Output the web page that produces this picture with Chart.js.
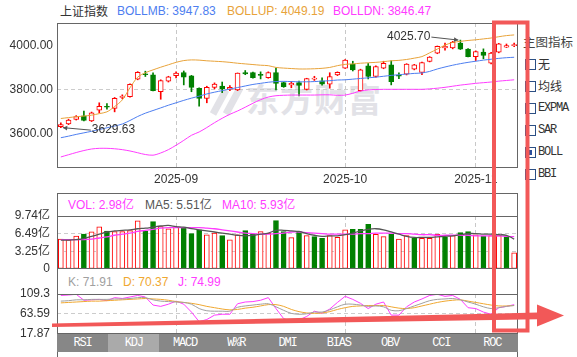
<!DOCTYPE html>
<html>
<head>
<meta charset="utf-8">
<script src="https://cdn.jsdelivr.net/npm/chart.js@4"></script>
<style>
  body { margin: 0; width: 577px; height: 357px; overflow: hidden; background: #fff; position: relative;
         font-family: "Liberation Sans", Arial, "Noto Sans CJK SC", sans-serif; }
  .t { position: absolute; font-size: 12px; line-height: 14px; white-space: nowrap; }
  canvas { position: absolute; left: 0; }
  .box { position: absolute; left: 525px; width: 9px; height: 9px; border: 1px solid #2b4f84; }
  .lbl { position: absolute; left: 538px; font-size: 12px; line-height: 14px; color: #333; }
  .mono { font-family: "Liberation Mono", monospace; font-size: 12px; letter-spacing: -1.2px; }
  #tabs { position: absolute; left: 57px; top: 334px; width: 461px; height: 18px; display: flex; background: #878787; }
  #tabs div { flex: 1; text-align: center; line-height: 18px; color: #fff; }
  #tabs div.on { background: #aaaaaa; }
</style>
</head>
<body>

<!-- watermark -->
<div class="t" style="left:246px;top:78px;font-size:33px;line-height:40px;font-weight:bold;color:#e2e2e7;font-family:'Noto Sans CJK SC';letter-spacing:1px;">东方财富</div>
<svg width="577" height="357" style="position:absolute;left:0;top:0">
  <path d="M213,114 L226,90 M226,114 L240,88" stroke="#e2e2e7" stroke-width="7" fill="none"/>
</svg>

<div class="t" style="left:60px;top:4px;color:#333;font-family:'Noto Sans CJK SC';">上证指数</div>
<div class="t" style="left:117px;top:4px;color:#4d7ef0;">BOLLMB: 3947.83</div>
<div class="t" style="left:227px;top:4px;color:#e8a33a;">BOLLUP: 4049.19</div>
<div class="t" style="left:333px;top:4px;color:#ff3cff;">BOLLDN: 3846.47</div>

<div style="position:absolute;left:57px;top:193px;width:461px;height:164px;box-sizing:border-box;border:1px solid #666;border-bottom:none;"></div>

<div class="t" style="left:68px;top:198px;color:#ff3cff;">VOL: 2.98亿</div>
<div class="t" style="left:145px;top:198px;color:#555;">MA5: 5.51亿</div>
<div class="t" style="left:222px;top:198px;color:#ff3cff;">MA10: 5.93亿</div>

<div class="t" style="left:68px;top:275px;color:#a0a0a0;">K: 71.91</div>
<div class="t" style="left:123px;top:275px;color:#f0a830;">D: 70.37</div>
<div class="t" style="left:178px;top:275px;color:#ff3cff;">J: 74.99</div>

<canvas id="mainChart" width="518" height="175" style="top:18px"></canvas>
<canvas id="volChart" width="518" height="67" style="top:209px"></canvas>
<canvas id="kdjChart" width="518" height="54" style="top:287px"></canvas>

<div class="t" style="left:523px;top:35px;color:#444;font-size:12.5px;font-family:'Noto Sans CJK SC';">主图指标</div>
<div class="box" style="top:59px"></div><div class="lbl" style="top:57px;font-family:'Noto Sans CJK SC'">无</div>
<div class="box" style="top:81px"></div><div class="lbl" style="top:79px;font-family:'Noto Sans CJK SC'">均线</div>
<div class="box" style="top:103px"></div><div class="lbl mono" style="top:101px">EXPMA</div>
<div class="box" style="top:125px"></div><div class="lbl mono" style="top:123px">SAR</div>
<div class="box" style="top:147px"><div style="position:absolute;left:2px;top:2px;width:4px;height:5px;background:#2b4f9c"></div></div><div class="lbl mono" style="top:145px">BOLL</div>
<div class="box" style="top:169px"></div><div class="lbl mono" style="top:167px">BBI</div>

<div id="tabs" class="mono">
  <div>RSI</div><div class="on">KDJ</div><div>MACD</div><div>W%R</div><div>DMI</div><div>BIAS</div><div>OBV</div><div>CCI</div><div>ROC</div>
</div>

<svg width="577" height="357" style="position:absolute;left:0;top:0">
  <rect x="494" y="22.5" width="33.5" height="308" fill="none" stroke="#f25858" stroke-width="4"/>
  <polygon points="52,323.6 538,312.6 538,319.2 52,327" fill="#f25858"/>
  <polygon points="537,304.5 564,315.5 537,326.5" fill="#f25858"/>
</svg>

<script>
// trading days, Aug 11 .. Nov 10 2025
const dates = [
  '2025-08-11','2025-08-12','2025-08-13','2025-08-14','2025-08-15',
  '2025-08-18','2025-08-19','2025-08-20','2025-08-21','2025-08-22',
  '2025-08-25','2025-08-26','2025-08-27','2025-08-28','2025-08-29',
  '2025-09-01','2025-09-02','2025-09-03','2025-09-04','2025-09-05',
  '2025-09-08','2025-09-09','2025-09-10','2025-09-11','2025-09-12',
  '2025-09-15','2025-09-16','2025-09-17','2025-09-18','2025-09-19',
  '2025-09-22','2025-09-23','2025-09-24','2025-09-25','2025-09-26',
  '2025-09-29','2025-09-30',
  '2025-10-09','2025-10-10',
  '2025-10-13','2025-10-14','2025-10-15','2025-10-16','2025-10-17',
  '2025-10-20','2025-10-21','2025-10-22','2025-10-23','2025-10-24',
  '2025-10-27','2025-10-28','2025-10-29','2025-10-30','2025-10-31',
  '2025-11-03','2025-11-04','2025-11-05','2025-11-06','2025-11-07',
  '2025-11-10'
];

const openP = [3634,3646,3667,3683,3660,3709,3726,3717,3766,3770,3849,3873,3868,3792,3840,3865,3879,3864,3808,3762,
  3812,3818,3803,3800,3879,3879,3871,3856,3879,3833,3823,3833,3803,3849,3841,3826,3868,3899,3917,3797,
  3909,3861,3899,3914,3866,3871,3894,3879,3929,3967,3990,3990,4012,3985,3951,3971,3921,3971,3994,4001];
const highP = [3651,3668,3684,3705,3700,3742,3738,3766,3778,3828,3883,3885,3878,3846,3862,3882,3886,3866,3810,3817,
  3832,3836,3820,3877,3888,3881,3882,3882,3899,3836,3838,3840,3853,3862,3855,3878,3882,3937,3930,3894,
  3920,3909,3930,3932,3878,3919,3916,3926,3951,3999,4012,4020,4025.70,3987,3977,3986,3970,4011,4008,4012];
const lowP = [3629.63,3643,3664,3660,3657,3697,3713,3701,3760,3768,3846,3861,3796,3758,3836,3855,3823,3792,3727,3742,
  3805,3788,3797,3797,3869,3853,3850,3853,3800,3812,3810,3773,3800,3843,3822,3808,3865,3897,3886,3795,
  3850,3858,3896,3823,3851,3868,3891,3869,3927,3964,3980,3986,3983,3949,3933,3941,3918,3968,3992,3996];
const closeP = [3644,3664,3680,3662,3697,3726,3722,3762,3772,3826,3880,3869,3797,3842,3859,3876,3858,3812,3762,3812,
  3827,3805,3812,3876,3873,3856,3866,3879,3830,3815,3830,3821,3851,3853,3826,3861,3880,3935,3891,3891,
  3861,3906,3920,3838,3863,3917,3914,3924,3949,3997,3997,4015,3985,3951,3974,3956,3967,4009,4001,4004];

const bollUP = [3671,3675,3679,3682,3686,3693,3701,3725,3755,3810,3858,3878,3891,3903,3914,3925,3933,3936,3935,3932,
  3930,3928,3925,3921,3918,3915,3912,3910,3902,3899,3897,3895,3895,3896,3898,3902,3910,3916,3918,3921,
  3923,3925,3928,3932,3934,3938,3944,3951,3968,3985,4003,4015,4020,4024,4027,4031,4035,4041,4046,4049];
const bollMB = [3584,3591,3599,3606,3613,3621,3629,3637,3646,3662,3680,3695,3707,3719,3731,3742,3753,3763,3772,3782,
  3790,3797,3804,3811,3818,3825,3830,3835,3838,3839,3838,3837,3837,3838,3840,3842,3845,3846,3849,3852,
  3855,3858,3862,3866,3869,3872,3875,3877,3884,3895,3904,3912,3919,3925,3930,3935,3939,3943,3946,3948];
const bollDN = [3497,3507,3517,3526,3533,3536,3536,3534,3530,3524,3516,3508,3505,3515,3530,3550,3572,3595,3610,3630,
  3652,3672,3690,3705,3722,3740,3756,3768,3774,3776,3777,3777,3777,3777,3778,3778,3776,3777,3785,3795,
  3800,3802,3803,3803,3803,3803,3803,3803,3805,3808,3812,3817,3822,3826,3830,3833,3836,3840,3843,3846];

// volume in 亿, up = red hollow
const volume = [5.52,5.34,6.07,6.44,6.81,7.73,6.99,6.86,6.86,7.05,8.83,6.99,8.70,7.78,7.36,7.73,7.60,6.50,7.18,6.26,
  6.62,6.13,5.34,6.26,7.05,6.37,6.86,6.55,8.89,6.86,5.76,6.86,6.13,5.94,5.64,6.13,5.82,7.18,7.29,7.29,
  8.21,6.37,5.94,6.37,5.52,6.13,5.64,5.64,5.64,6.37,5.82,6.13,6.68,6.86,6.26,6.07,6.13,6.13,5.94,2.98];
const volUp = [1,1,1,0,1,1,0,1,1,1,1,0,0,1,1,1,0,0,0,1,
  1,0,1,1,0,0,1,1,0,0,1,0,1,0,0,1,1,1,0,0,
  0,1,1,0,1,1,0,1,1,1,0,1,0,0,1,0,1,1,0,1];
const volMA5 = [5.3,5.3,5.4,5.6,6.0,6.4,6.8,7.0,7.1,7.2,7.4,7.5,7.7,7.9,8.0,7.8,7.7,7.4,7.2,7.0,
  6.8,6.6,6.4,6.2,6.1,6.2,6.4,6.6,7.1,7.1,7.0,6.9,6.5,6.2,6.0,6.1,6.1,6.3,6.6,7.0,
  7.3,7.4,7.2,6.8,6.4,6.0,5.8,5.8,5.8,5.9,6.0,6.1,6.3,6.5,6.5,6.4,6.4,6.3,6.2,5.5];
const volMA10 = [5.4,5.4,5.4,5.4,5.5,5.7,5.9,6.2,6.4,6.6,6.9,7.1,7.3,7.5,7.6,7.6,7.6,7.6,7.6,7.5,
  7.4,7.2,7.0,6.8,6.6,6.5,6.4,6.4,6.5,6.6,6.8,6.8,6.7,6.6,6.5,6.4,6.4,6.4,6.4,6.5,
  6.5,6.6,6.6,6.6,6.5,6.5,6.4,6.3,6.3,6.2,6.2,6.2,6.2,6.2,6.1,6.1,6.1,6.1,6.0,5.95];

const kLine = [93,94,96,96,97,97,97,98,98,99,101,101,96,93,92,91,90,86,76,71,
  70,70,70,79,82,84,86,87,80,72,65,63,64,68,68,73,80,86,86,84,
  81,82,80,72,71,76,82,88,94,97,98,99,96,91,86,80,76,78,81,83];
const dLine = [89,90,91,92,93,93,94,95,96,97,98,99,98,97,95,92,90,88,85,81,
  78,75,73,74,77,79,82,85,85,81,74,69,66,65,66,69,74,78,81,82,
  83,83,83,80,77,76,78,82,86,90,93,95,96,93,90,87,84,82,82,83];
const jLine = [106,107,108.6,95,96,97,94,101,99,102.5,106,102.5,84,81,86,93,86,68,46,51,
  61,63,63,87,91,92,95,101,76,53,47,50,58,70,65,75,90,104,97,88,
  76,86,91,61,61,80,91,98,106,108.6,104,106,97,78,76,68,63,78,81,85];

const priceTicks = [3600, 3800, 4000];
const volTicks = [0, 3.25, 6.49, 9.74];
const kdjTicks = [17.87, 63.59, 109.3];

const RED = '#ff0000', GREEN = '#008000';
const monthStart = dates.map((d, i) => i > 0 && d.slice(0, 7) !== dates[i - 1].slice(0, 7));
const candleUp = closeP.map((c, i) => c >= openP[i]);

Chart.defaults.font.family = '"Liberation Sans", Arial, "Noto Sans CJK SC", sans-serif';
Chart.defaults.font.size = 12;
Chart.defaults.color = '#333';

const framePlugin = {
  id: 'frame',
  afterDraw(chart) {
    const a = chart.chartArea, c = chart.ctx;
    c.save();
    c.strokeStyle = '#666';
    c.lineWidth = 1;
    c.strokeRect(a.left + 0.5, a.top + 0.5, a.right - a.left - 1, a.bottom - a.top - 1);
    c.restore();
  }
};

// high / low labels with small arrows
const extremesPlugin = {
  id: 'extremes',
  afterDatasetsDraw(chart) {
    const c = chart.ctx, xs = chart.scales.x, ys = chart.scales.y;
    const hi = highP.indexOf(Math.max(...highP));
    const lo = lowP.indexOf(Math.min(...lowP));
    c.save();
    c.font = '12px "Liberation Sans", Arial';
    c.strokeStyle = '#555';
    c.lineWidth = 1;
    function arrow(x1, y1, x2, y2) {
      c.beginPath(); c.moveTo(x1, y1); c.lineTo(x2, y2); c.stroke();
      const ang = Math.atan2(y2 - y1, x2 - x1);
      c.beginPath();
      c.moveTo(x2, y2);
      c.lineTo(x2 - 5 * Math.cos(ang - 0.5), y2 - 5 * Math.sin(ang - 0.5));
      c.lineTo(x2 - 5 * Math.cos(ang + 0.5), y2 - 5 * Math.sin(ang + 0.5));
      c.closePath(); c.fillStyle = '#555'; c.fill();
    }
    let px = xs.getPixelForValue(hi), py = ys.getPixelForValue(highP[hi]);
    c.textAlign = 'right'; c.textBaseline = 'middle'; c.fillStyle = '#333';
    c.fillText(highP[hi].toFixed(2), px - 30, py - 3.5);
    arrow(px - 29, py - 3, px - 2, py);
    px = xs.getPixelForValue(lo); py = ys.getPixelForValue(lowP[lo]);
    c.textAlign = 'left'; c.fillStyle = '#333';
    c.fillText(lowP[lo].toFixed(2), px + 31, py + 2.5);
    arrow(px + 30, py + 2.5, px + 2, py);
    c.restore();
  }
};

function xScale(showLabels) {
  return {
    type: 'category',
    offset: true,
    grid: {
      offset: false,
      drawTicks: false,
      color: ctx => monthStart[ctx.index] ? '#c8c8c8' : 'rgba(0,0,0,0)'
    },
    border: { display: false, dash: [4, 3] },
    ticks: {
      display: showLabels,
      autoSkip: false,
      maxRotation: 0,
      padding: 4,
      color: '#333',
      callback: (v, i) => monthStart[i] ? dates[i].slice(0, 7) : ''
    },
    afterFit: s => { s.height = showLabels ? 25 : 0; s.paddingLeft = 0; s.paddingRight = 0; }
  };
}

function yScale(tickList, fmt, pad) {
  const lo = tickList[0], hi = tickList[tickList.length - 1];
  return {
    min: lo,
    max: hi,
    afterBuildTicks: s => { s.ticks = tickList.map(v => ({ value: v })); },
    grid: {
      drawTicks: false,
      color: ctx => (ctx.tick && (ctx.tick.value === lo || ctx.tick.value === hi)) ? 'rgba(0,0,0,0)' : '#cccccc'
    },
    border: { display: false, dash: [4, 3] },
    ticks: { autoSkip: false, padding: pad, color: '#333', callback: fmt },
    // keep plot edges where the layout padding puts them
    afterFit: s => { s.width = 57; s.paddingTop = 0; s.paddingBottom = 0; }
  };
}

const common = {
  responsive: false,
  animation: false,
  devicePixelRatio: 1,
  plugins: { legend: { display: false }, tooltip: { enabled: false } }
};

function line(data, color, width, tension) {
  return { type: 'line', data: data, borderColor: color, borderWidth: width, pointRadius: 0, tension: tension, order: 0 };
}

// main price chart
new Chart(document.getElementById('mainChart'), {
  type: 'bar',
  data: {
    labels: dates,
    datasets: [
      line(bollUP, '#e8a33a', 1, 0.3),
      line(bollMB, '#4d7ef0', 1, 0.3),
      line(bollDN, '#ff3cff', 1, 0.3),
      {
        data: openP.map((o, i) => [o, closeP[i]]),
        backgroundColor: candleUp.map(u => u ? '#ffffff' : GREEN),
        borderColor: candleUp.map(u => u ? RED : GREEN),
        borderWidth: 1,
        borderSkipped: false,
        barThickness: 5,
        minBarLength: 1,
        grouped: false,
        order: 1
      },
      {
        data: lowP.map((l, i) => [l, highP[i]]),
        backgroundColor: candleUp.map(u => u ? RED : GREEN),
        barThickness: 1,
        grouped: false,
        order: 2
      }
    ]
  },
  options: Object.assign({}, common, {
    layout: { padding: { top: 5, right: 0, left: 0, bottom: 0 } },
    scales: {
      x: xScale(true),
      y: Object.assign(yScale(priceTicks, v => v.toFixed(2), 4), { min: 3447, max: 4103 })
    }
  }),
  plugins: [framePlugin, extremesPlugin]
});

// volume chart
new Chart(document.getElementById('volChart'), {
  type: 'bar',
  data: {
    labels: dates,
    datasets: [
      line(volMA5, '#555555', 1.3, 0.4),
      line(volMA10, '#ff3cff', 1.3, 0.4),
      {
        data: volume,
        backgroundColor: volUp.map(u => u ? '#ffffff' : GREEN),
        borderColor: volUp.map(u => u ? RED : GREEN),
        borderWidth: 1,
        borderSkipped: false,
        barThickness: 5,
        order: 1
      }
    ]
  },
  options: Object.assign({}, common, {
    layout: { padding: { top: 7, right: 0, left: 0, bottom: 7 } },
    scales: {
      x: xScale(false),
      y: yScale(volTicks, v => v === 0 ? '0' : v.toFixed(2) + '亿', 7)
    }
  }),
  plugins: [framePlugin]
});

// KDJ chart
new Chart(document.getElementById('kdjChart'), {
  type: 'line',
  data: {
    labels: dates,
    datasets: [
      line(kLine, '#a0a0a0', 1, 0.3),
      line(dLine, '#f0a830', 1, 0.3),
      line(jLine, '#ff3cff', 1, 0)
    ]
  },
  options: Object.assign({}, common, {
    layout: { padding: { top: 7, right: 0, left: 0, bottom: 7 } },
    scales: {
      x: xScale(false),
      y: yScale(kdjTicks, v => String(v), 7)
    }
  }),
  plugins: [framePlugin]
});
</script>
</body>
</html>
